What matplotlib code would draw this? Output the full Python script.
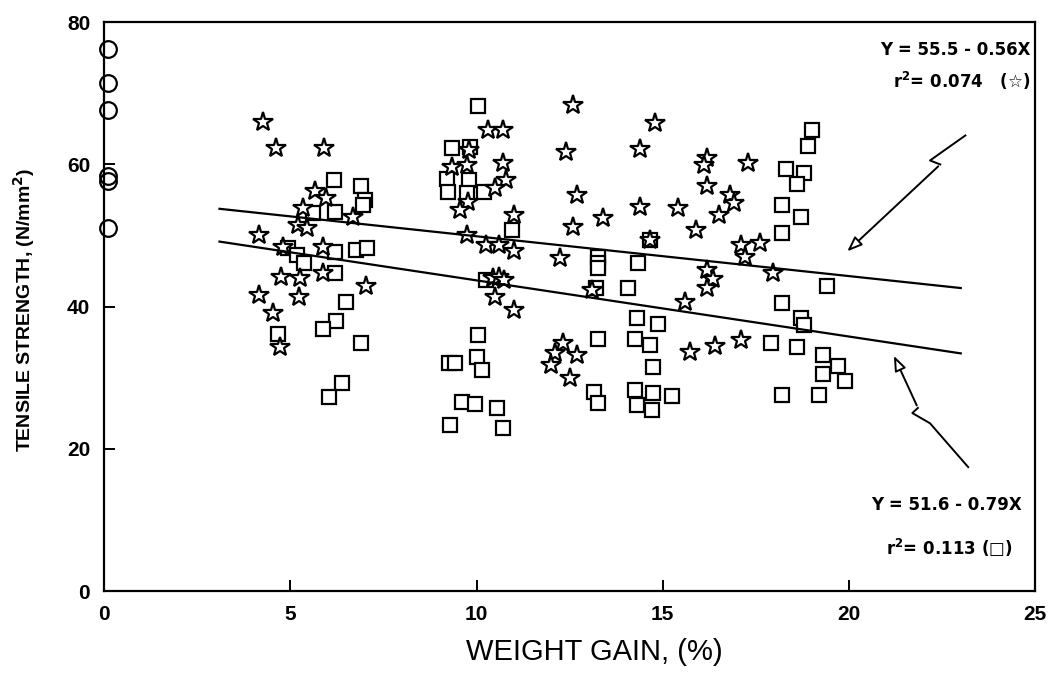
import numpy as np
import matplotlib.pyplot as plt

# weight gain (%) and tensile strength (N/mm2) for each treatment
star_x = [4.27, 4.62, 5.91, 5.67, 5.96, 5.35, 6.69, 5.2, 5.45, 4.17, 4.81, 5.89, 4.75, 5.26,
          5.88, 7.04, 4.17, 5.24, 4.54, 4.73,
          10.3, 10.7, 12.6, 14.8, 12.4, 14.4, 9.8, 9.35, 9.75, 10.7, 10.8, 10.5, 9.78, 9.56,
          12.7, 13.4, 14.4, 15.4, 15.9, 12.6, 11.0, 9.74, 10.26, 10.6, 11.0, 14.66, 12.25,
          10.45, 10.6, 10.75, 13.1, 10.5, 11.0, 15.6, 15.74, 12.33, 12.1, 12.7, 12.0, 12.5,
          16.2, 16.1, 17.3, 16.2, 16.8, 16.9, 16.5, 17.1, 17.6, 17.2, 17.95, 16.2, 16.35,
          16.2, 16.4, 17.1]
star_y = [66.0, 62.3, 62.3, 56.3, 55.3, 53.9, 52.6, 51.5, 51.0, 50.1, 48.4, 48.4, 44.2, 44.0,
          44.7, 42.9, 41.6, 41.4, 39.1, 34.3,
          64.8, 64.8, 68.4, 65.8, 61.7, 62.2, 62.0, 59.6, 59.9, 60.2, 57.8, 56.7, 54.7, 53.6,
          55.7, 52.5, 54.0, 53.9, 50.8, 51.2, 52.9, 50.1, 48.7, 48.7, 47.8, 49.4, 46.8,
          44.0, 44.2, 43.8, 42.3, 41.4, 39.5, 40.6, 33.6, 34.9, 33.5, 33.2, 31.8, 30.0,
          60.9, 59.9, 60.2, 57.0, 55.7, 54.6, 52.9, 48.7, 48.9, 47.0, 44.7, 45.1, 43.9,
          42.6, 34.4, 35.3]

sq_x = [6.18, 6.90, 7.01, 6.95, 5.62, 6.2, 4.95, 5.18, 5.37, 6.21, 6.77, 7.06, 6.2, 6.5,
        6.23, 5.89, 4.68, 6.9, 6.4, 6.05,
        10.05, 9.34, 9.83, 9.2, 9.8, 9.24, 9.75, 10.2, 10.95, 14.66, 13.27, 13.27, 13.27,
        14.34, 10.26, 13.2, 14.07, 14.3, 14.87, 10.05, 13.25, 14.25, 14.65, 9.27, 9.43,
        10.0, 10.15, 14.75, 13.16, 13.27, 14.26, 14.75, 15.25, 14.3, 14.7, 9.6, 9.97,
        10.55, 9.3, 10.7,
        19.0, 18.9, 18.3, 18.8, 18.6, 18.2, 18.7, 18.2, 19.4, 18.2, 18.7, 18.8, 17.9, 18.6,
        19.3, 19.7, 19.3, 19.9, 18.2, 19.2]
sq_y = [57.8, 57.0, 55.0, 54.3, 53.2, 53.3, 48.2, 47.3, 46.2, 47.7, 48.0, 48.2, 44.7, 40.6,
        38.0, 36.8, 36.1, 34.9, 29.3, 27.3,
        68.2, 62.3, 62.4, 57.9, 57.8, 56.1, 56.0, 56.1, 50.8, 49.4, 47.0, 46.1, 45.4,
        46.1, 43.7, 42.6, 42.6, 38.4, 37.5, 36.0, 35.4, 35.4, 34.6, 32.1, 32.1,
        32.9, 31.1, 31.5, 28.0, 26.4, 28.3, 27.8, 27.4, 26.2, 25.5, 26.6, 26.3,
        25.7, 23.3, 22.9,
        64.8, 62.6, 59.4, 58.8, 57.2, 54.3, 52.6, 50.4, 42.9, 40.5, 38.4, 37.4, 34.9, 34.3,
        33.2, 31.6, 30.6, 29.5, 27.6, 27.6]

# untreated controls
ctrl_x = [0.1, 0.1, 0.1, 0.1, 0.1, 0.1]
ctrl_y = [76.3, 71.5, 67.6, 58.4, 57.7, 51.0]

# regression fits: Y = a + b*X
star_fit = (55.5, -0.56)
sq_fit = (51.6, -0.79)
fit_range = [3.1, 23.0]

plt.rcParams['font.family'] = 'Liberation Sans'

fig = plt.figure(figsize=(10.51, 6.74), dpi=100)
ax = fig.add_axes([0.099, 0.123, 0.886, 0.844])

ax.plot(sq_x, sq_y, 's', ms=10, mfc='white', mec='black', mew=1.6, ls='none')
ax.plot(star_x, star_y, '*', ms=15, mfc='white', mec='black', mew=1.6, ls='none')
ax.plot(ctrl_x, ctrl_y, 'o', ms=12, mfc='none', mec='black', mew=1.6, ls='none',
        clip_on=False, zorder=5)

xf = np.array(fit_range)
ax.plot(xf, star_fit[0] + star_fit[1] * xf, color='black', lw=1.6)
ax.plot(xf, sq_fit[0] + sq_fit[1] * xf, color='black', lw=1.6)

ax.set_xlim(0, 25)
ax.set_ylim(0, 80)
ax.set_xticks([0, 5, 10, 15, 20, 25])
ax.set_yticks([0, 20, 40, 60, 80])
ax.tick_params(direction='in', length=8, width=1.4, labelsize=15, pad=10)
for lab in ax.get_xticklabels() + ax.get_yticklabels():
    lab.set_fontweight('bold')
for s in ax.spines.values():
    s.set_linewidth(1.6)

ax.set_xlabel('WEIGHT GAIN, (%)', fontsize=21)
ax.xaxis.set_label_coords(0.526, -0.082)
ax.set_ylabel('TENSILE STRENGTH, (N/mm$^\\mathbf{2}$)', fontsize=14, fontweight='bold')
ax.yaxis.set_label_coords(-0.072, 0.494)

# equation labels
tkw = dict(transform=ax.transAxes, ha='right', va='center', fontsize=12,
           fontweight='bold', family='DejaVu Sans')
ax.text(0.995, 0.952, 'Y = 55.5 - 0.56X', **tkw)
ax.text(0.995, 0.896, 'r$^\\mathbf{2}$= 0.074   (\u2606)', **tkw)
ax.text(0.986, 0.151, 'Y = 51.6 - 0.79X', **tkw)
ax.text(0.976, 0.076, 'r$^\\mathbf{2}$= 0.113 (\u25a1)', **tkw)

# zig-zag pointers to the fitted lines
def pointer(pts):
    pts = np.array(pts)
    ax.plot(pts[:-1, 0], pts[:-1, 1], color='black', lw=1.4, transform=ax.transAxes)
    ax.annotate('', xy=pts[-1], xytext=pts[-2], xycoords='axes fraction',
                textcoords='axes fraction',
                arrowprops=dict(arrowstyle='-|>,head_length=0.9,head_width=0.35',
                                fc='white', ec='black', lw=1.4))

pointer([(0.925, 0.801), (0.887, 0.757), (0.898, 0.750), (0.796, 0.594)])
pointer([(0.928, 0.218), (0.887, 0.295), (0.868, 0.313), (0.874, 0.322), (0.847, 0.418)])

fig.savefig('out.png', dpi=100)
